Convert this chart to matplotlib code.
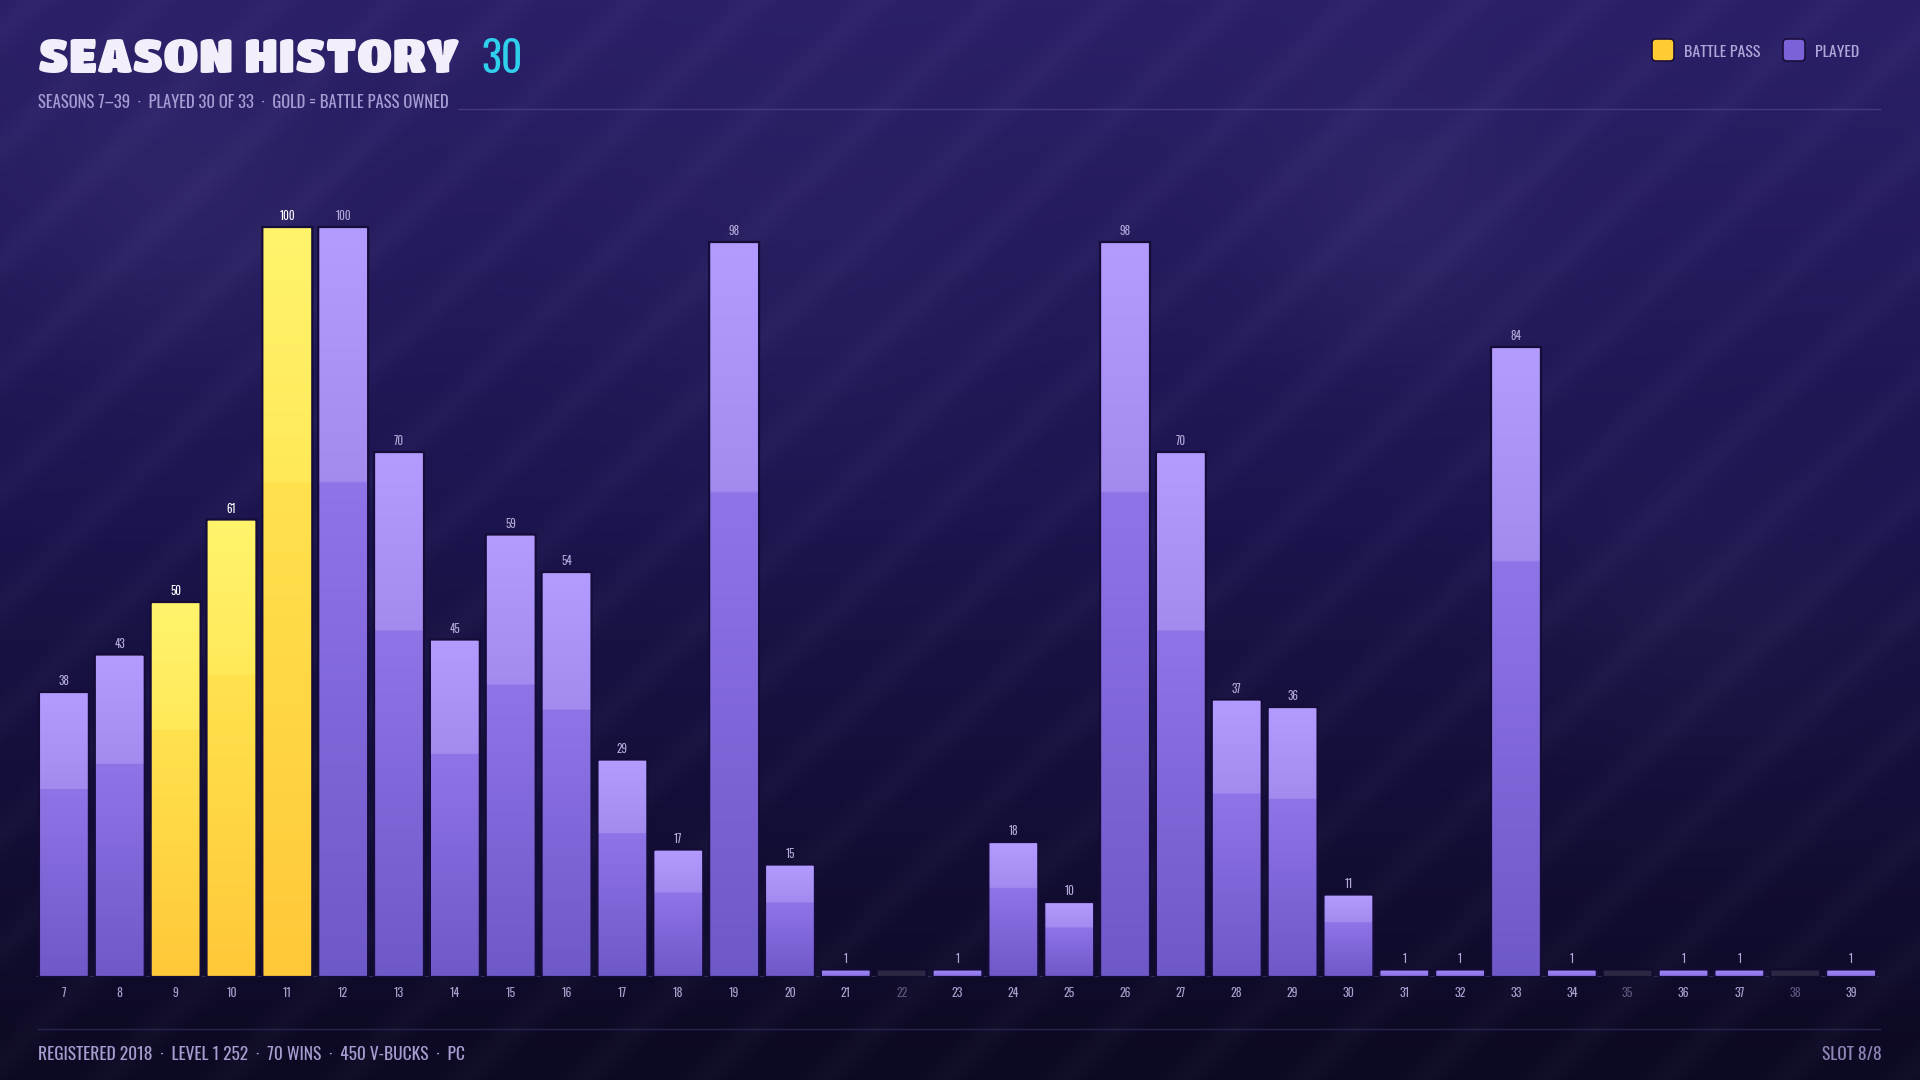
import numpy as np
import matplotlib
matplotlib.use("Agg")
import matplotlib.pyplot as plt
from matplotlib.patches import FancyBboxPatch
from matplotlib.colors import to_rgba

# ---------------- data ----------------
seasons = list(range(7, 40))
values = [38, 43, 50, 61, 100, 100, 70, 45, 59, 54, 29, 17, 98, 15, 1, 0, 1,
          18, 10, 98, 70, 37, 36, 11, 1, 1, 84, 1, 0, 1, 1, 0, 1]
battle_pass = [9, 10, 11]
title = "SEASON HISTORY"
title_count = "30"
subtitle = "SEASONS 7\u201339  \u00b7  PLAYED 30 OF 33  \u00b7  GOLD = BATTLE PASS OWNED"
footer_left = "REGISTERED 2018  \u00b7  LEVEL 1 252  \u00b7  70 WINS  \u00b7  450 V-BUCKS  \u00b7  PC"
footer_right = "SLOT 8/8"
legend_labels = ["BATTLE PASS", "PLAYED"]

NARROW = ["Oswald", "Bebas Neue", "Fira Sans Condensed", "DejaVu Sans"]
TITLE_FONT = ["Luckiest Guy", "Titan One", "Lilita One", "Archivo Black", "DejaVu Sans"]
W, H = 1920, 1080

fig = plt.figure(figsize=(19.2, 10.8), dpi=100)

# ---------------- background ----------------
bg = fig.add_axes([0, 0, 1, 1])
yy, xx = np.mgrid[0:H, 0:W].astype(float)
t = yy / H
top = np.array(to_rgba("#2b2068")[:3])
mid = np.array(to_rgba("#1c1550")[:3])
bot = np.array(to_rgba("#0c0922")[:3])
tt = t[..., None]
img = np.where(tt < 0.45, top + (mid - top) * (tt / 0.45), mid + (bot - mid) * ((tt - 0.45) / 0.55))
# diagonal stripes
u = (xx + yy * 1.05) % 120.0
stripe = np.clip(1 - np.abs(u - 35) / 32.0, 0, 1)
img = img + stripe[..., None] * 0.022
# soft glows
for cx, cy, rad, a in [(180, 210, 110, 0.03), (1400, 225, 100, 0.03), (800, 300, 150, 0.015), (1700, 600, 110, 0.02)]:
    g = np.exp(-((xx - cx) ** 2 + (yy - cy) ** 2) / (2 * rad ** 2))
    img = img + g[..., None] * a
img = np.clip(img, 0, 1)
bg.imshow(img, extent=(0, W, H, 0), aspect="auto", interpolation="bilinear", zorder=0)
bg.set_xlim(0, W)
bg.set_ylim(H, 0)
bg.axis("off")

# separator lines
bg.plot([458, 1880], [108.5, 108.5], color="#5a4fa0", lw=1.0, alpha=0.55, zorder=1)
bg.plot([38, 1880], [1029, 1029], color="#3a3468", lw=1.0, alpha=0.6, zorder=1)

# title
bg.text(38, 73, title, fontsize=34, family=TITLE_FONT,
        color="#f2effa", ha="left", va="baseline", zorder=3)
bg.text(481, 73, title_count, fontsize=30, family=NARROW, color="#2fd0ec",
        ha="left", va="baseline", zorder=3)
bg.text(38, 108, subtitle, fontsize=12, family=NARROW, color="#a69cd4",
        ha="left", va="baseline", zorder=3)

# legend
leg_items = [(1652, legend_labels[0], "#ffcc33"), (1783, legend_labels[1], "#7b62d8")]
for lx, lab, col in leg_items:
    bg.add_patch(FancyBboxPatch((lx, 39), 22, 22, boxstyle="round,pad=0,rounding_size=4",
                                facecolor=col, edgecolor="#1a0f3a", lw=1.2, zorder=3))
    bg.text(lx + 32, 57, lab, fontsize=11.5, family=NARROW, color="#aea6d8",
            ha="left", va="baseline", zorder=3)

# footer
bg.text(38, 1060, footer_left, fontsize=12.5, family=NARROW, color="#a69cd0",
        ha="left", va="baseline", zorder=3)
bg.text(1882, 1060, footer_right, fontsize=12.5, family=NARROW, color="#8f86b8",
        ha="right", va="baseline", zorder=3)

# ---------------- bars ----------------
left_px, base_px, width_px, height_px = 36, 977, 1843, 825
ax = fig.add_axes([left_px / W, (H - base_px) / H, width_px / W, height_px / H])
ax.set_facecolor("none")
n = len(seasons)
ax.set_xlim(-0.5, n - 0.5)
ax.set_ylim(0, 110)
x_px_per_unit = width_px / n
y_px_per_unit = height_px / 110
aspect = x_px_per_unit / y_px_per_unit
bw = 0.895

xpos = np.arange(n)
PLACEHOLDER = 1.0
heights = [v if v > 0 else PLACEHOLDER for v in values]
rects = ax.bar(xpos, heights, width=bw, color="none", edgecolor="none", zorder=2)


def grad(top_a, top_b, bot_a, bot_b, step=0.34, N=300):
    rows = []
    for i in range(N):
        f = i / (N - 1)
        if f < step:
            c = np.array(to_rgba(top_a)) + (np.array(to_rgba(top_b)) - np.array(to_rgba(top_a))) * (f / step)
        else:
            c = np.array(to_rgba(bot_a)) + (np.array(to_rgba(bot_b)) - np.array(to_rgba(bot_a))) * ((f - step) / (1 - step))
        rows.append(c)
    return np.array(rows)[:, None, :]


purple_grad = grad("#b39bff", "#a28aee", "#8f74e8", "#6f58c8")
gold_grad = grad("#fff46c", "#ffe95a", "#ffe24e", "#ffc839")

for rect, s, v in zip(rects, seasons, values):
    x0 = rect.get_x()
    w = rect.get_width()
    h = rect.get_height()
    hpx = h * y_px_per_unit
    r_px = min(5.0, hpx / 2.0)
    r = r_px / x_px_per_unit
    patch = FancyBboxPatch((x0, 0), w, h, boxstyle=f"round,pad=0,rounding_size={r}",
                           mutation_aspect=1.0 / aspect, facecolor="none",
                           edgecolor="#150c38", lw=1.6, zorder=4)
    if v == 0:
        patch.set_facecolor("#2c2844")
        patch.set_edgecolor("#120b2e")
        ax.add_patch(patch)
        continue
    ax.add_patch(patch)
    if v <= 2:
        g = grad("#a990ff", "#9c83f4", "#9a82f2", "#8a70e4", N=50)
    elif s in battle_pass:
        g = gold_grad
    else:
        g = purple_grad
    im = ax.imshow(g, extent=(x0, x0 + w, 0, h), aspect="auto", interpolation="bilinear",
                   origin="upper", zorder=3)
    im.set_clip_path(patch)
    if s in battle_pass:
        ax.annotate(str(v), (x0 + w / 2, h), xytext=(0, 3.5), textcoords="offset points",
                    ha="center", va="bottom", fontsize=8, fontweight="bold",
                    family=NARROW, color="#ffffff", zorder=5)
    else:
        ax.annotate(str(v), (x0 + w / 2, h), xytext=(0, 3.5), textcoords="offset points",
                    ha="center", va="bottom", fontsize=8, family=NARROW,
                    color="#b2a9d8", zorder=5)

# baseline
ax.axhline(0, color="#3a3462", lw=1.2, zorder=1)

ax.set_xticks(xpos)
ax.set_xticklabels([str(s) for s in seasons], fontsize=8.5, family=NARROW)
for lab, v in zip(ax.get_xticklabels(), values):
    lab.set_color("#a8a0cc" if v > 0 else "#5c567e")
ax.tick_params(axis="x", length=0, pad=7)
ax.set_yticks([])
for sp in ax.spines.values():
    sp.set_visible(False)

fig.savefig("out.png", dpi=100, facecolor=fig.get_facecolor())
